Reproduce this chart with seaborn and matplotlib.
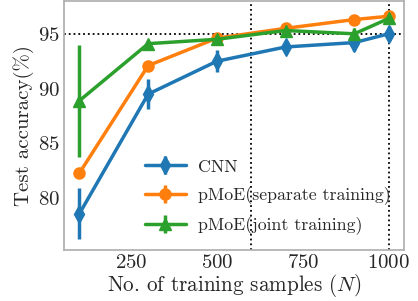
import numpy as np
import matplotlib
matplotlib.use("Agg")
import matplotlib.pyplot as plt
import seaborn as sns

# valores
n_amostras = [100, 300, 500, 700, 900, 1000]

cnn_acc = [78.6, 89.5, 92.5, 93.8, 94.2, 95.0]
cnn_err = [2.3, 1.4, 1.0, 0.3, 0.8, 0.7]

sep_acc = [82.3, 92.1, 94.6, 95.5, 96.3, 96.6]
sep_err = [0.2, 0.2, 0.2, 0.2, 0.2, 0.2]

joint_acc = [88.9, 94.1, 94.5, 95.3, 95.0, 96.4]
joint_err = [5.1, 0.2, 0.2, 0.5, 0.5, 0.3]

linha_v = [600, 1000]
linha_h = 95

sns.set_theme(style="white")
plt.rcParams["font.family"] = "serif"
plt.rcParams["font.serif"] = ["cmr10"]
plt.rcParams["mathtext.fontset"] = "cm"
plt.rcParams["axes.formatter.use_mathtext"] = True
plt.rcParams["axes.edgecolor"] = "#b0b0b0"

cores = sns.color_palette("tab10")

fig, ax = plt.subplots(figsize=(4.18, 3.01), dpi=100)
fig.subplots_adjust(left=0.153, right=0.967, top=0.997, bottom=0.17)

series = [
    ("CNN", cnn_acc, cnn_err, "d", cores[0]),
    ("pMoE(separate training)", sep_acc, sep_err, "o", cores[1]),
    ("pMoE(joint training)", joint_acc, joint_err, "^", cores[2]),
]
for nome, acc, err, mk, cor in series:
    ax.errorbar(n_amostras, acc, yerr=err, marker=mk, color=cor, lw=2.5,
                ms=9 if mk == "d" else 8, elinewidth=2.5, label=nome)

for xv in linha_v:
    ax.axvline(xv, color="black", ls=":", lw=1.3)
ax.axhline(linha_h, color="black", ls=":", lw=1.3)

ax.set_ylim(75.3, 98.0)
ax.set_xticks([250, 500, 750, 1000])
ax.set_yticks([80, 85, 90, 95])
ax.tick_params(labelsize=15, length=0, pad=3)
ax.set_xlabel("No. of training samples ($N$)", fontsize=15.2, labelpad=0)
ax.set_ylabel("Test accuracy(%)", fontsize=15, labelpad=3)
ax.legend(loc="center left", bbox_to_anchor=(0.238, 0.212), frameon=False,
          fontsize=12.8, handlelength=2.3, borderaxespad=0, borderpad=0,
          labelspacing=0.65, handletextpad=0.7)

plt.savefig("out.png", dpi=100)
